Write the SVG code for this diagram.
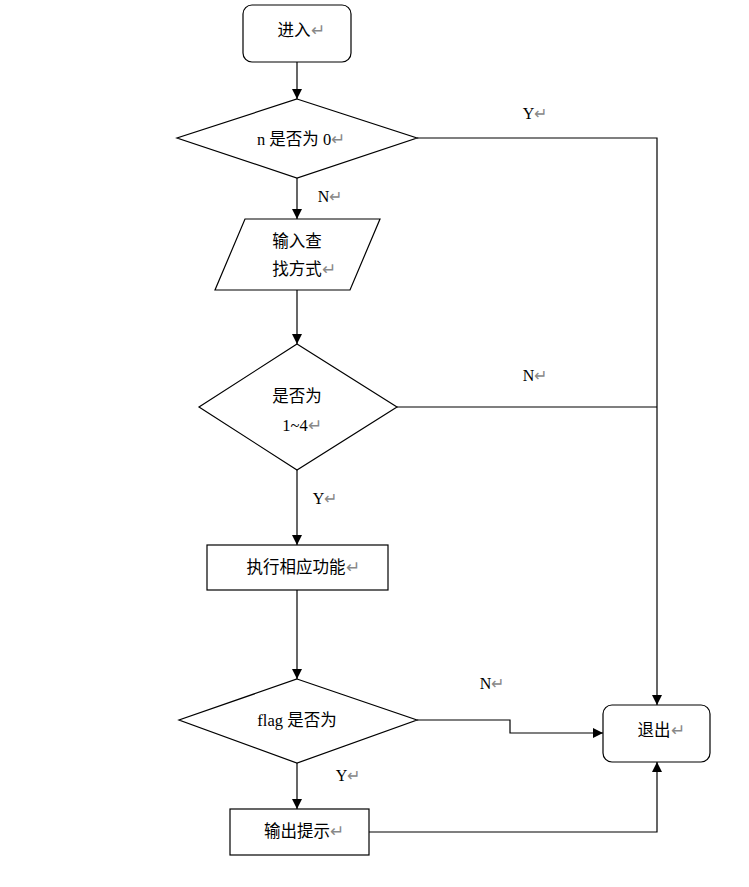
<svg xmlns="http://www.w3.org/2000/svg" width="749" height="887" viewBox="0 0 749 887">
<style>
.shape{fill:#fff;stroke:#000;stroke-width:1.2}
.line{fill:none;stroke:#000;stroke-width:1.2}
.t{font-family:"Liberation Serif","Noto Sans CJK SC",serif;font-size:16.5px;fill:#000;text-anchor:middle;dominant-baseline:central}
.lbl{font-family:"Liberation Serif","Noto Sans CJK SC",serif;font-size:16px;fill:#000;text-anchor:middle;dominant-baseline:central}
.rt{fill:#888}
</style>
<defs>
<marker id="arr" viewBox="0 0 10 10" refX="10" refY="5" markerWidth="10" markerHeight="10" markerUnits="userSpaceOnUse" orient="auto">
<path d="M0,0 L10,5 L0,10 Z" fill="#000"/>
</marker>
</defs>
<rect width="749" height="887" fill="#fff"/>
<g id="connectors">
<path class="line" d="M297,62 V99" marker-end="url(#arr)"/>
<path class="line" d="M417,138 H657 V705" marker-end="url(#arr)"/>
<path class="line" d="M297,178 V219" marker-end="url(#arr)"/>
<path class="line" d="M297,290 V344" marker-end="url(#arr)"/>
<path class="line" d="M397,407 H657"/>
<path class="line" d="M297,470 V545" marker-end="url(#arr)"/>
<path class="line" d="M297,590 V679" marker-end="url(#arr)"/>
<path class="line" d="M417,720 H510 V733 H603" marker-end="url(#arr)"/>
<path class="line" d="M297,763 V809" marker-end="url(#arr)"/>
<path class="line" d="M369,832 H657 V762" marker-end="url(#arr)"/>
<text class="lbl" x="535" y="113">Y<tspan class="rt">↵</tspan></text>
<text class="lbl" x="330" y="196">N<tspan class="rt">↵</tspan></text>
<text class="lbl" x="535" y="375">N<tspan class="rt">↵</tspan></text>
<text class="lbl" x="325" y="498">Y<tspan class="rt">↵</tspan></text>
<text class="lbl" x="492" y="683">N<tspan class="rt">↵</tspan></text>
<text class="lbl" x="348" y="775">Y<tspan class="rt">↵</tspan></text>
</g>
<g id="start">
<rect class="shape" x="243" y="5" width="108" height="57" rx="9"/>
<text class="t" x="301" y="30">进入<tspan class="rt">↵</tspan></text>
</g>
<g id="check-n">
<polygon class="shape" points="297,99 417,138 297,178 177,138"/>
<text class="t" x="301" y="139">n 是否为 0<tspan class="rt">↵</tspan></text>
</g>
<g id="input">
<polygon class="shape" points="245,219 380,219 350,290 215,290"/>
<text class="t" x="297" y="241">输入查</text>
<text class="t" x="304" y="269">找方式<tspan class="rt">↵</tspan></text>
</g>
<g id="check-range">
<polygon class="shape" points="297,344 397,407 297,470 199,407"/>
<text class="t" x="297" y="396">是否为</text>
<text class="t" x="302" y="425">1~4<tspan class="rt">↵</tspan></text>
</g>
<g id="execute">
<rect class="shape" x="207" y="545" width="181" height="45"/>
<text class="t" x="303" y="567">执行相应功能<tspan class="rt">↵</tspan></text>
</g>
<g id="check-flag">
<polygon class="shape" points="297,679 417,720 297,763 179,720"/>
<text class="t" x="297" y="720">flag 是否为</text>
</g>
<g id="prompt">
<rect class="shape" x="230" y="809" width="139" height="46"/>
<text class="t" x="304" y="831">输出提示<tspan class="rt">↵</tspan></text>
</g>
<g id="exit">
<rect class="shape" x="603" y="705" width="107" height="57" rx="9"/>
<text class="t" x="661" y="730">退出<tspan class="rt">↵</tspan></text>
</g>
</svg>
